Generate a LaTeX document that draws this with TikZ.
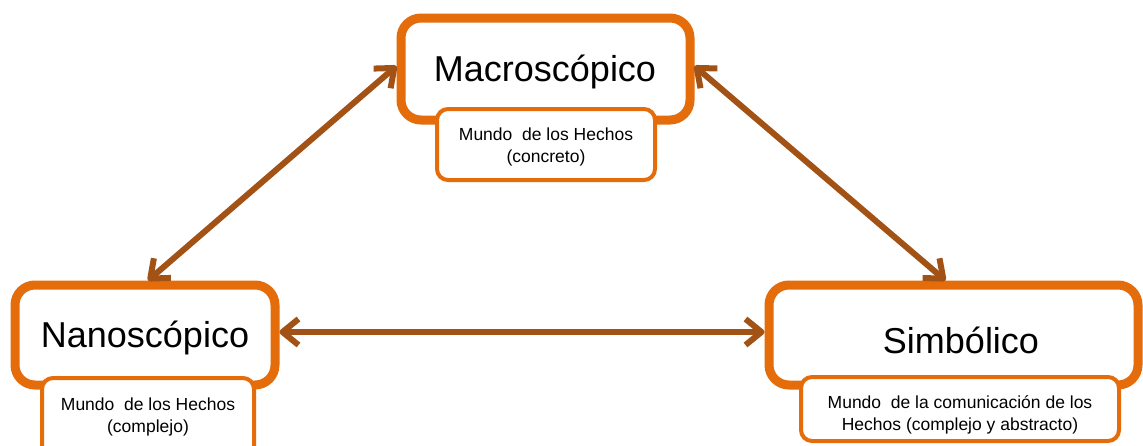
\documentclass[tikz,border=0pt]{standalone}
\usepackage{fontspec}
\setmainfont{Liberation Sans}
\usetikzlibrary{arrows.meta}
\definecolor{boxorange}{RGB}{228,108,10}
\definecolor{arrowbrown}{RGB}{163,82,22}
\tikzset{
  bigbox/.style={draw=boxorange, line width=9pt, rounded corners=20pt, fill=white, inner sep=0pt},
  subbox/.style={draw=boxorange, line width=4pt, rounded corners=11pt, fill=white, inner sep=0pt},
  bigtext/.style={font=\fontsize{36}{40}\selectfont, inner sep=0pt},
  subtext/.style={font=\fontsize{17.5}{22}\selectfont, align=center, inner sep=0pt},
  link/.style={draw=arrowbrown, line width=6pt, line cap=round,
    {Straight Barb[length=16pt,width=26pt,line join=round]}-{Straight Barb[length=16pt,width=26pt,line join=round]}}
}
\begin{document}
\begin{tikzpicture}[x=1pt,y=-1pt]
\useasboundingbox (0,0) rectangle (1143,445);
\clip (0,0) rectangle (1143,445);
\fill[white] (0,0) rectangle (1143,445);
% Macroscopico
\node[bigbox, minimum width=289pt, minimum height=102pt] (macro) at (545.5,69) {};
\node[bigtext] (macrot) at (545,72) {Macroscópico};
\node[subbox, minimum width=218pt, minimum height=71pt] (macros) at (546,144.5) {};
\node[subtext] (macrost) at (546,147) {Mundo\ \ de los Hechos\\(concreto)};
% Nanoscopico
\node[bigbox, minimum width=260pt, minimum height=100pt] (nano) at (145,335) {};
\node[bigtext] (nanot) at (145,338) {Nanoscópico};
\node[subbox, minimum width=212pt, minimum height=80pt] (nanos) at (148,418) {};
\node[subtext] (nanost) at (148,417) {Mundo\ \ de los Hechos\\(complejo)};
% Simbolico
\node[bigbox, minimum width=369pt, minimum height=100pt] (simb) at (953.5,335) {};
\node[bigtext] (simbt) at (961,340) {Simbólico};
\node[subbox, minimum width=318pt, minimum height=64pt] (simbs) at (960,409) {};
\node[subtext] (simbst) at (960,415) {Mundo\ \ de la comunicación de los\\Hechos (complejo y abstracto)};
% arrows
\draw[link] ([xshift=3pt]nano.north) -- ([yshift=3pt]macro.west);
\draw[link] ([yshift=3pt]macro.east) -- ([xshift=-8pt]simb.north);
\draw[link] ([yshift=3pt]nano.east) -- ([yshift=3pt]simb.west);
\end{tikzpicture}
\end{document}
